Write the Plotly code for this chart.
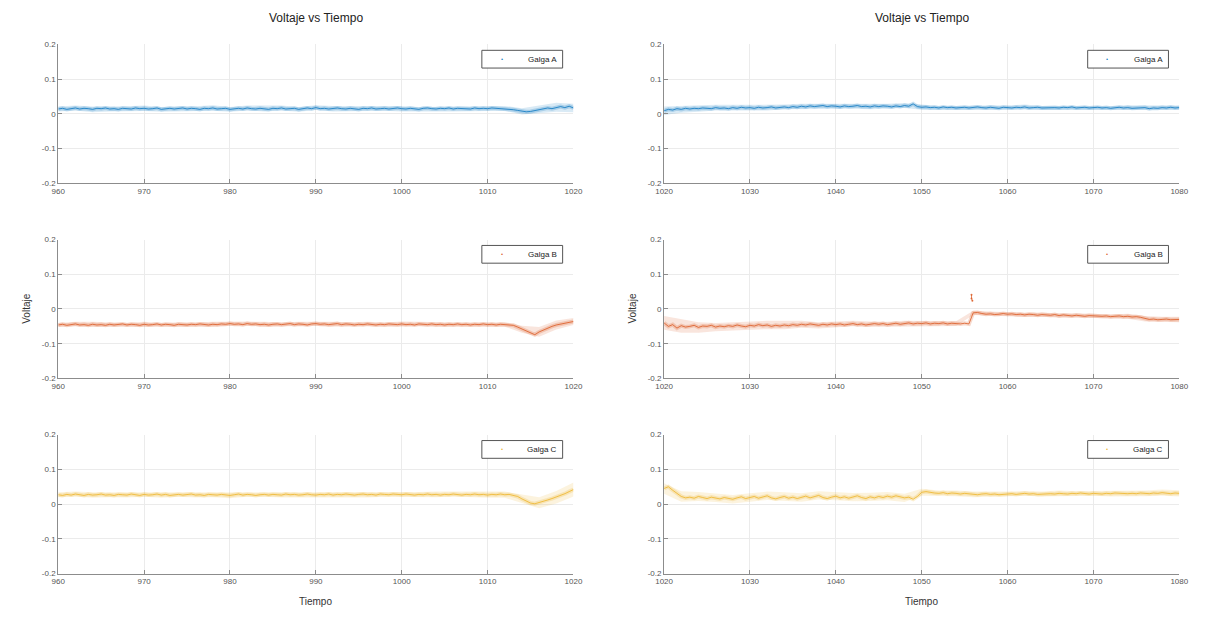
import plotly.graph_objects as go
from plotly.subplots import make_subplots

# ---------------- data ----------------
STEP = 0.5          # sample spacing of the core traces (s)
BAND_EVERY = 4      # spread values given every 2 s
LEFT_START, RIGHT_START = 960.0, 1020.0

X_TICKS_LEFT = [960, 970, 980, 990, 1000, 1010, 1020]
X_TICKS_RIGHT = [1020, 1030, 1040, 1050, 1060, 1070, 1080]
Y_TICKS = [0.2, 0.1, 0, -0.1, -0.2]
Y_TICK_TEXT = ["0.2", "0.1", "0", "-0.1", "-0.2"]
SERIES_NAMES = ["Galga A", "Galga B", "Galga C"]

A_LEFT = [
    0.014, 0.016, 0.013, 0.015, 0.017, 0.014, 0.016, 0.015, 0.013, 0.016,
    0.015, 0.017, 0.014, 0.015, 0.013, 0.016, 0.015, 0.014, 0.017, 0.015,
    0.016, 0.014, 0.015, 0.017, 0.013, 0.015, 0.016, 0.014, 0.015, 0.017,
    0.014, 0.016, 0.015, 0.013, 0.016, 0.015, 0.017, 0.014, 0.015, 0.016,
    0.013, 0.015, 0.016, 0.014, 0.017, 0.015, 0.014, 0.016, 0.015, 0.013,
    0.016, 0.015, 0.017, 0.014, 0.015, 0.016, 0.013, 0.015, 0.017, 0.015,
    0.018, 0.015, 0.016, 0.014, 0.015, 0.017, 0.015, 0.014, 0.016, 0.015,
    0.013, 0.016, 0.015, 0.017, 0.014, 0.015, 0.016, 0.014, 0.015, 0.017,
    0.015, 0.014, 0.016, 0.015, 0.013, 0.016, 0.017, 0.015, 0.014, 0.016,
    0.015, 0.017, 0.014, 0.016, 0.015, 0.016, 0.014, 0.017, 0.015, 0.016,
    0.015, 0.017, 0.016, 0.015, 0.016, 0.014,
    0.012, 0.010, 0.007, 0.006, 0.007, 0.009, 0.012, 0.014, 0.017, 0.015,
    0.019, 0.021, 0.018, 0.022, 0.017,
]
A_RIGHT = [
    0.009, 0.013, 0.011, 0.015, 0.013, 0.016, 0.014, 0.016, 0.015, 0.017,
    0.016, 0.015, 0.018, 0.016, 0.017, 0.015, 0.018, 0.016, 0.019, 0.017,
    0.018, 0.016, 0.019, 0.017, 0.018, 0.020, 0.017, 0.019, 0.020, 0.018,
    0.021, 0.019, 0.022, 0.020, 0.023, 0.021, 0.022, 0.024, 0.021, 0.023,
    0.022, 0.020, 0.023, 0.021, 0.022, 0.024, 0.021, 0.022, 0.020, 0.023,
    0.021, 0.023, 0.022, 0.020, 0.023, 0.021, 0.024, 0.022, 0.029, 0.021,
    0.019, 0.020, 0.018, 0.019, 0.017, 0.020, 0.018, 0.019, 0.017, 0.018,
    0.019, 0.017, 0.018, 0.020, 0.018, 0.017, 0.019, 0.018, 0.016, 0.019,
    0.018, 0.017, 0.019, 0.018, 0.020, 0.017, 0.018, 0.019, 0.017, 0.018,
    0.019, 0.018, 0.017, 0.019, 0.018, 0.020, 0.017, 0.018, 0.019, 0.017,
    0.018, 0.019, 0.017, 0.018, 0.016, 0.018, 0.019, 0.017, 0.018, 0.016,
    0.017, 0.016, 0.018, 0.015, 0.017, 0.016, 0.018, 0.017, 0.019, 0.017,
    0.018,
]
B_LEFT = [
    -0.046, -0.044, -0.047, -0.045, -0.043, -0.046, -0.045, -0.047, -0.044, -0.046,
    -0.045, -0.047, -0.044, -0.046, -0.045, -0.043, -0.046, -0.044, -0.045, -0.047,
    -0.044, -0.046, -0.045, -0.043, -0.046, -0.044, -0.045, -0.047, -0.044, -0.045,
    -0.046, -0.044, -0.045, -0.043, -0.045, -0.046, -0.044, -0.045, -0.043, -0.044,
    -0.042, -0.044, -0.043, -0.045, -0.042, -0.044, -0.043, -0.045, -0.044, -0.046,
    -0.044, -0.043, -0.045, -0.044, -0.042, -0.045, -0.043, -0.044, -0.046, -0.043,
    -0.042, -0.044, -0.043, -0.045, -0.044, -0.042, -0.045, -0.043, -0.044, -0.046,
    -0.044, -0.045, -0.043, -0.044, -0.046, -0.044, -0.045, -0.043, -0.044, -0.045,
    -0.043, -0.045, -0.044, -0.046, -0.043, -0.044, -0.045, -0.043, -0.045, -0.044,
    -0.046, -0.044, -0.045, -0.043, -0.045, -0.044, -0.046, -0.044, -0.045, -0.043,
    -0.045, -0.044, -0.046, -0.044, -0.045, -0.044,
    -0.047, -0.052, -0.058, -0.064, -0.070, -0.074, -0.066, -0.060, -0.055, -0.050,
    -0.046, -0.043, -0.040, -0.037, -0.036,
]
B_RIGHT = [
    -0.040, -0.050, -0.045, -0.055, -0.048, -0.052, -0.050, -0.047, -0.053, -0.049,
    -0.050, -0.047, -0.052, -0.049, -0.051, -0.048, -0.050, -0.046, -0.049, -0.051,
    -0.047, -0.049, -0.045, -0.048, -0.046, -0.050, -0.047, -0.049, -0.046, -0.048,
    -0.045, -0.047, -0.044, -0.046, -0.043, -0.045, -0.047, -0.044, -0.046, -0.043,
    -0.045, -0.043, -0.046, -0.044, -0.042, -0.045, -0.043, -0.046, -0.044, -0.042,
    -0.044, -0.042, -0.045, -0.043, -0.041, -0.044, -0.042, -0.040, -0.043, -0.041,
    -0.042, -0.040, -0.043, -0.041, -0.042, -0.040, -0.043, -0.041, -0.042, -0.043,
    -0.041, -0.043, -0.011, -0.010, -0.013, -0.015, -0.014, -0.016, -0.015, -0.013,
    -0.015, -0.014, -0.016, -0.015, -0.017, -0.015, -0.016, -0.018, -0.016, -0.017,
    -0.018, -0.016, -0.019, -0.017, -0.018, -0.020, -0.018, -0.019, -0.021, -0.019,
    -0.020, -0.019, -0.021, -0.020, -0.022, -0.021, -0.020, -0.022, -0.021, -0.023,
    -0.022, -0.024, -0.028, -0.030, -0.029, -0.031, -0.030, -0.029, -0.031, -0.030,
    -0.030,
]
# isolated spike points in Galga B (right panel)
B_SPIKE_T = [1055.8, 1055.8, 1055.9]
B_SPIKE_V = [0.041, 0.030, 0.024]

C_LEFT = [
    0.027, 0.025, 0.028, 0.026, 0.029, 0.027, 0.025, 0.028, 0.026, 0.027,
    0.029, 0.026, 0.027, 0.025, 0.028, 0.027, 0.026, 0.029, 0.027, 0.025,
    0.028, 0.026, 0.027, 0.029, 0.026, 0.028, 0.025, 0.027, 0.028, 0.026,
    0.027, 0.029, 0.026, 0.027, 0.025, 0.028, 0.027, 0.026, 0.028, 0.027,
    0.025, 0.027, 0.029, 0.026, 0.028, 0.027, 0.025, 0.027, 0.028, 0.026,
    0.028, 0.027, 0.026, 0.029, 0.027, 0.028, 0.026, 0.027, 0.029, 0.027,
    0.026, 0.028, 0.027, 0.029, 0.026, 0.028, 0.027, 0.029, 0.027, 0.026,
    0.028, 0.029, 0.027, 0.028, 0.026, 0.029, 0.028, 0.027, 0.029, 0.028,
    0.027, 0.029, 0.028, 0.026, 0.028, 0.027, 0.029, 0.027, 0.028, 0.026,
    0.028, 0.027, 0.029, 0.028, 0.026, 0.028, 0.027, 0.029, 0.027, 0.028,
    0.026, 0.028, 0.027, 0.029, 0.027, 0.028,
    0.026, 0.022, 0.015, 0.008, 0.003, 0.001, 0.004, 0.008, 0.012, 0.016,
    0.020, 0.024, 0.030, 0.036, 0.042,
]
C_RIGHT = [
    0.045, 0.050, 0.040, 0.030, 0.022, 0.018, 0.020, 0.017, 0.022, 0.019,
    0.016, 0.020, 0.018, 0.015, 0.019, 0.017, 0.014, 0.018, 0.021, 0.016,
    0.019, 0.022, 0.017, 0.020, 0.024, 0.018, 0.015, 0.019, 0.022, 0.017,
    0.020, 0.016, 0.019, 0.023, 0.018, 0.021, 0.025, 0.019, 0.016, 0.020,
    0.023, 0.018, 0.021, 0.017, 0.020, 0.024, 0.019, 0.016, 0.021, 0.018,
    0.022, 0.019, 0.023, 0.020, 0.024, 0.021, 0.018, 0.020, 0.014, 0.022,
    0.034, 0.036, 0.033, 0.032, 0.031, 0.033, 0.030, 0.032, 0.031, 0.029,
    0.031, 0.030, 0.028, 0.027, 0.029, 0.030, 0.028, 0.029, 0.027, 0.028,
    0.029, 0.030, 0.028, 0.029, 0.031, 0.029, 0.030, 0.028, 0.029, 0.031,
    0.030, 0.029, 0.031, 0.030, 0.029, 0.031, 0.030, 0.032, 0.030, 0.029,
    0.031, 0.030, 0.029, 0.031, 0.030, 0.032, 0.031, 0.029, 0.030, 0.031,
    0.030, 0.032, 0.031, 0.030, 0.032, 0.031, 0.033, 0.031, 0.030, 0.032,
    0.031,
]

# half-width of the lighter noise cloud, every 2 s
SPREAD_A_LEFT = [0.007, 0.007, 0.008, 0.007, 0.007, 0.008, 0.007, 0.007, 0.007, 0.008,
                 0.007, 0.007, 0.008, 0.007, 0.007, 0.007, 0.008, 0.007, 0.007, 0.007,
                 0.008, 0.007, 0.007, 0.007, 0.008, 0.007, 0.007, 0.009, 0.011, 0.013, 0.012]
SPREAD_A_RIGHT = [0.012, 0.010, 0.009, 0.008, 0.008, 0.008, 0.008, 0.007, 0.007, 0.007,
                  0.007, 0.007, 0.007, 0.007, 0.007, 0.007, 0.006, 0.006, 0.007, 0.006,
                  0.006, 0.007, 0.006, 0.006, 0.007, 0.006, 0.006, 0.007, 0.006, 0.006, 0.006]
SPREAD_B_LEFT = [0.006, 0.006, 0.007, 0.006, 0.006, 0.007, 0.006, 0.006, 0.006, 0.007,
                 0.006, 0.006, 0.007, 0.006, 0.006, 0.006, 0.007, 0.006, 0.006, 0.006,
                 0.007, 0.006, 0.006, 0.006, 0.007, 0.006, 0.006, 0.010, 0.014, 0.013, 0.010]
SPREAD_B_RIGHT = [0.020, 0.020, 0.015, 0.012, 0.012, 0.012, 0.012, 0.012, 0.010, 0.009,
                  0.008, 0.008, 0.008, 0.008, 0.008, 0.008, 0.008, 0.007, 0.006, 0.006,
                  0.006, 0.006, 0.006, 0.006, 0.006, 0.006, 0.006, 0.007, 0.008, 0.008, 0.008]
SPREAD_C_LEFT = [0.007, 0.007, 0.008, 0.007, 0.007, 0.007, 0.008, 0.007, 0.007, 0.007,
                 0.008, 0.007, 0.007, 0.007, 0.008, 0.007, 0.007, 0.007, 0.008, 0.007,
                 0.007, 0.007, 0.008, 0.007, 0.007, 0.008, 0.009, 0.013, 0.016, 0.018, 0.020]
SPREAD_C_RIGHT = [0.015, 0.015, 0.013, 0.012, 0.012, 0.012, 0.012, 0.012, 0.012, 0.012,
                  0.012, 0.012, 0.012, 0.012, 0.012, 0.010, 0.008, 0.008, 0.008, 0.007,
                  0.007, 0.007, 0.007, 0.008, 0.007, 0.007, 0.008, 0.008, 0.008, 0.009, 0.009]

# ---------------- styling ----------------
COLORS = [(0, 114, 189), (217, 83, 25), (237, 177, 32)]
FONT = "Liberation Sans, Arial, Helvetica, sans-serif"
W, H = 1208, 619

X_PX = [(50, 573), (665, 1188)]
X_DOM = [(a / W, b / W) for a, b in X_PX]
ROW_PX = [(41, 182), (239, 380), (437, 578)]
Y_DOM = [(1 - b / H, 1 - t / H) for t, b in ROW_PX]

fig = make_subplots(rows=3, cols=2)

panels = [
    (0, 0, A_LEFT, SPREAD_A_LEFT, LEFT_START),
    (0, 1, A_RIGHT, SPREAD_A_RIGHT, RIGHT_START),
    (1, 0, B_LEFT, SPREAD_B_LEFT, LEFT_START),
    (1, 1, B_RIGHT, SPREAD_B_RIGHT, RIGHT_START),
    (2, 0, C_LEFT, SPREAD_C_LEFT, LEFT_START),
    (2, 1, C_RIGHT, SPREAD_C_RIGHT, RIGHT_START),
]


def rgba(col, a):
    return f"rgba({col[0]},{col[1]},{col[2]},{a})"


shapes = []
annotations = []

for r, c, vals, spread, start in panels:
    col = COLORS[r]
    t = [start + STEP * i for i in range(len(vals))]
    tb = t[::BAND_EVERY]
    cb = vals[::BAND_EVERY]
    up = [v + s for v, s in zip(cb, spread)]
    lo = [v - s for v, s in zip(cb, spread)]
    # noise cloud
    fig.add_trace(go.Scatter(x=tb + tb[::-1], y=up + lo[::-1], fill="toself",
                             fillcolor=rgba(col, 0.15), line=dict(width=0),
                             mode="lines", showlegend=False, hoverinfo="skip"),
                  row=r + 1, col=c + 1)
    # soft halo
    fig.add_trace(go.Scatter(x=t, y=vals, mode="lines",
                             line=dict(color=rgba(col, 0.22), width=4),
                             showlegend=False, hoverinfo="skip"),
                  row=r + 1, col=c + 1)
    # core signal
    fig.add_trace(go.Scatter(x=t, y=vals, mode="lines",
                             line=dict(color=rgba(col, 0.75), width=1),
                             name=SERIES_NAMES[r], showlegend=False),
                  row=r + 1, col=c + 1)
    if r == 1 and c == 1:
        fig.add_trace(go.Scatter(x=B_SPIKE_T, y=B_SPIKE_V, mode="lines+markers",
                                 line=dict(color=rgba(col, 0.7), width=1),
                                 marker=dict(size=2, color=rgba(col, 0.8)),
                                 showlegend=False, hoverinfo="skip"),
                      row=r + 1, col=c + 1)

    # legend box drawn like the MATLAB one
    bx1 = X_PX[c][1] - 11
    bx0 = bx1 - 82
    by0 = ROW_PX[r][0] + 6
    by1 = by0 + 18
    shapes.append(dict(type="rect", xref="paper", yref="paper",
                       x0=bx0 / W, x1=bx1 / W, y0=1 - by1 / H, y1=1 - by0 / H,
                       line=dict(color="#555555", width=1), fillcolor="white", layer="above"))
    annotations.append(dict(text="•", x=(bx0 + 20) / W, y=1 - (by0 + 9) / H,
                            xref="paper", yref="paper", showarrow=False,
                            font=dict(family=FONT, size=6, color=rgba(col, 0.9)),
                            xanchor="center", yanchor="middle"))
    annotations.append(dict(text=SERIES_NAMES[r], x=(bx1 - 4) / W, y=1 - (by0 + 9) / H,
                            xref="paper", yref="paper", showarrow=False,
                            font=dict(family=FONT, size=8, color="#222222"),
                            xanchor="right", yanchor="middle"))

axis_common = dict(showline=True, linecolor="#8c8c8c", linewidth=1, mirror=False,
                   showgrid=True, gridcolor="#ebebeb", gridwidth=1,
                   ticks="inside", ticklen=4, tickcolor="#8c8c8c",
                   tickfont=dict(family=FONT, size=8, color="#555555"),
                   zeroline=False)

layout_upd = {}
for r in range(3):
    for c in range(2):
        idx = r * 2 + c + 1
        sfx = "" if idx == 1 else str(idx)
        ticks = X_TICKS_LEFT if c == 0 else X_TICKS_RIGHT
        layout_upd[f"xaxis{sfx}"] = dict(axis_common, domain=list(X_DOM[c]),
                                          range=[ticks[0], ticks[-1]],
                                          tickvals=ticks, ticktext=[str(v) for v in ticks])
        layout_upd[f"yaxis{sfx}"] = dict(axis_common, domain=list(Y_DOM[r]),
                                          range=[-0.2, 0.2], tickvals=Y_TICKS,
                                          ticktext=Y_TICK_TEXT)
fig.update_layout(**layout_upd)

for c in range(2):
    cx = (X_DOM[c][0] + X_DOM[c][1]) / 2
    annotations.append(dict(text="Voltaje vs Tiempo", x=cx, y=1 - 14 / H, xref="paper", yref="paper",
                            showarrow=False, font=dict(family=FONT, size=12, color="#222222"),
                            xanchor="center", yanchor="middle"))
    annotations.append(dict(text="Tiempo", x=cx, y=1 - 606 / H, xref="paper", yref="paper",
                            showarrow=False, font=dict(family=FONT, size=10, color="#333333"),
                            xanchor="center", yanchor="middle"))
for lx in (17, 632):
    annotations.append(dict(text="Voltaje", x=lx / W, y=1 - 309.5 / H, xref="paper", yref="paper",
                            showarrow=False, textangle=-90,
                            font=dict(family=FONT, size=10, color="#333333"),
                            xanchor="center", yanchor="middle"))

fig.update_layout(width=W, height=H, autosize=False,
                  margin=dict(l=0, r=0, t=0, b=0),
                  paper_bgcolor="white", plot_bgcolor="white",
                  showlegend=False,
                  shapes=shapes, annotations=annotations, font=dict(family=FONT))

fig.write_html("out.html")
